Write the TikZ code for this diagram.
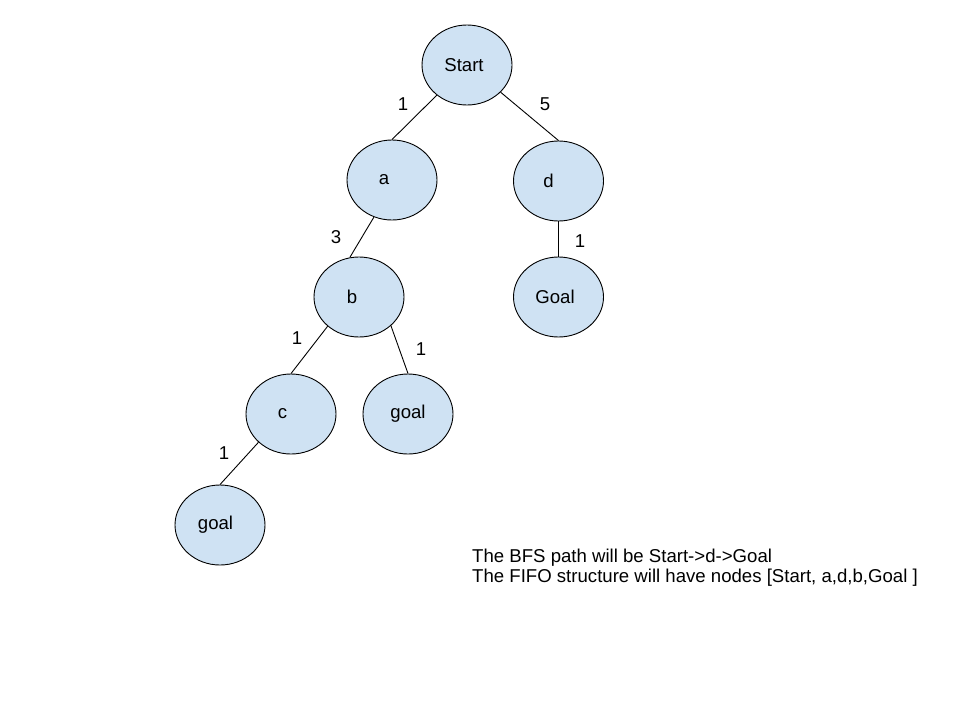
\documentclass[tikz,border=0pt]{standalone}
\usepackage{fontspec}
\setmainfont{Liberation Sans}
\usetikzlibrary{shapes.geometric}
\definecolor{nodefill}{HTML}{CFE2F3}
\newcommand{\txtshift}[2]{\hspace*{-#1pt}#2\hspace*{#1pt}\hspace*{-#1pt}\hspace*{-#1pt}}
\begin{document}
\begin{tikzpicture}[x=1pt,y=-1pt,
  treenode/.style={ellipse,draw=black,line width=0.9pt,fill=nodefill,minimum width=90pt,minimum height=80pt,inner sep=0pt,font=\fontsize{18.6}{21}\selectfont},
  edge/.style={draw=black,line width=0.9pt},
  wlabel/.style={inner sep=0pt,font=\fontsize{18.6}{21}\selectfont},
  note/.style={inner sep=0pt,anchor=base west,font=\fontsize{18.6}{21}\selectfont}]
\useasboundingbox (0,0) rectangle (960,720);
\fill[white] (0,0) rectangle (960,720);
\node[treenode] (start) at (467,65) {\hspace*{-6pt}Start};
\node[treenode] (a) at (392,180) {\hspace*{-16pt}a};
\node[treenode] (d) at (558.5,181) {\hspace*{-20pt}d};
\node[treenode] (b) at (359,297) {\hspace*{-14pt}b};
\node[treenode] (G) at (558.5,297) {\hspace*{-7pt}Goal};
\node[treenode] (c) at (291,414) {\hspace*{-17pt}c};
\node[treenode] (g2) at (408,414) {goal};
\node[treenode] (g3) at (220,525) {\hspace*{-9pt}goal};
\draw[edge] (start.225) -- (a.north);
\draw[edge] (start.-39) -- (d.north);
\draw[edge] (a.244) -- (b.103);
\draw[edge] (d.south) -- (G.north);
\draw[edge] (b.223) -- (c.north);
\draw[edge] (b.318) -- (g2.north);
\draw[edge] (c.221) -- (g3.north);
\node[wlabel] (l1) at (403,104) {1};
\node[wlabel] (l2) at (545,104) {5};
\node[wlabel] (l3) at (336,237) {3};
\node[wlabel] (l4) at (580,241) {1};
\node[wlabel] (l5) at (297,338) {1};
\node[wlabel] (l6) at (421,349) {1};
\node[wlabel] (l7) at (224,453) {1};
\node[note] (n1) at (472,562) {The BFS path will be Start->d->Goal};
\node[note] (n2) at (472,582) {The FIFO structure will have nodes [Start, a,d,b,Goal ]};
\end{tikzpicture}
\end{document}
